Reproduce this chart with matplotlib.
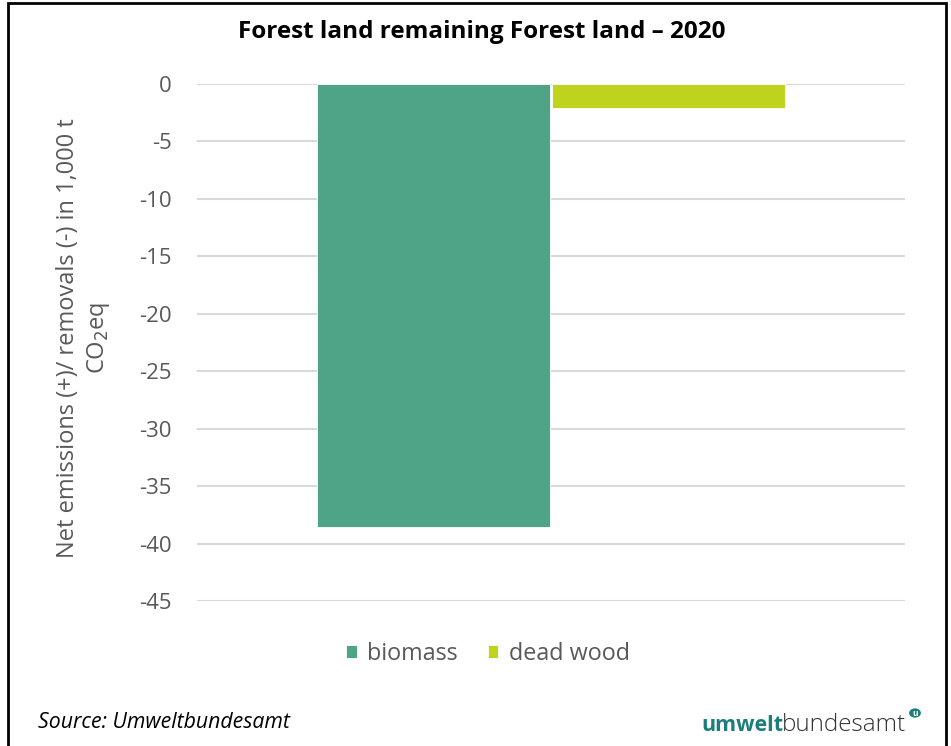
import matplotlib.pyplot as plt
from matplotlib.patches import Rectangle, Circle

# values in 1,000 t CO2eq
series = ['biomass', 'dead wood']
values = [-38.6, -2.1]
colors = ['#4fa387', '#bfd31c']
yticks = [0, -5, -10, -15, -20, -25, -30, -35, -40, -45]

plt.rcParams['font.family'] = ['Open Sans', 'DejaVu Sans']
grey = '#595959'

fig = plt.figure(figsize=(9.51, 7.46), dpi=100)
ax = fig.add_axes([197 / 951, 1 - 601 / 746, 708 / 951, 517 / 746])

offsets = [-0.166, 0.166]
for name, val, col, off in zip(series, values, colors, offsets):
    ax.bar(off, val, width=0.328, color=col, edgecolor='white', linewidth=0.6,
           label=name, zorder=3)

ax.set_xlim(-0.5, 0.5)
ax.set_ylim(-45, 0)
ax.set_yticks(yticks)
ax.set_yticklabels([str(t) for t in yticks])
ax.tick_params(axis='y', length=0, pad=18, labelsize=16, labelcolor=grey)
ax.set_xticks([])
ax.grid(axis='y', color='#d9d9d9', linewidth=1.5, zorder=0)
for s in ax.spines.values():
    s.set_visible(False)
ax.set_clip_on(False)

fig.text(84 / 951, 1 - 338 / 746,
         'Net emissions (+)/ removals (-) in 1,000 t\nCO$_2$eq',
         rotation=90, ha='center', va='center', fontsize=17, color=grey,
         linespacing=1.25, multialignment='center')

fig.text(482 / 951, 1 - 32 / 746, 'Forest land remaining Forest land – 2020',
         ha='center', va='center', fontsize=17.5, fontweight='bold', color='black')

leg = fig.legend(loc='center', bbox_to_anchor=(488 / 951, 1 - 654 / 746), ncol=2,
                 frameon=False, fontsize=16.8, handlelength=0.45, handleheight=0.45,
                 handletextpad=0.45, columnspacing=1.3)
for t in leg.get_texts():
    t.set_color(grey)

fig.text(38 / 951, 1 - 722 / 746, 'Source: Umweltbundesamt', ha='left', va='center',
         fontsize=15.3, style='italic', color='black')

# umweltbundesamt wordmark
base_y = 1 - 731 / 746
t1 = fig.text(701 / 951, base_y, 'umwelt', ha='left', va='baseline',
              fontsize=15.5, fontweight='bold', color='#1b7e7a')
fig.canvas.draw()
bb = t1.get_window_extent()
fig.text(906 / 951, base_y, 'bundesamt', ha='right', va='baseline',
         fontsize=17.5, fontweight='light', color='#333333')
fig.patches.append(Circle((915 / 951, 1 - 713 / 746), 0.0062, transform=fig.transFigure,
                          facecolor='#1b7e7a', edgecolor='none'))
fig.text(915 / 951, 1 - 714 / 746, 'u', ha='center', va='center', fontsize=6,
         fontweight='bold', color='white')

# outer frame
fig.patches.append(Rectangle((8 / 951, -0.05), 938 / 951, 1.05 - 3 / 746,
                             transform=fig.transFigure, fill=False,
                             edgecolor='black', linewidth=2))

fig.savefig('out.png', dpi=100)
